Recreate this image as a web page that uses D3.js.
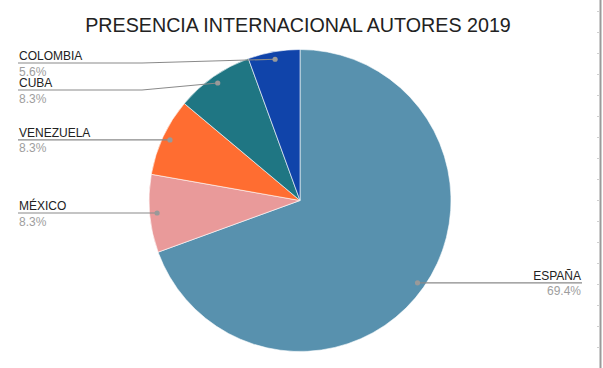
<!DOCTYPE html>
<html>
<head>
<meta charset="utf-8">
<script src="https://cdn.jsdelivr.net/npm/d3@7"></script>
<style>
  html, body { margin: 0; padding: 0; background: #fff; }
  svg { display: block; font-family: Arial, "Liberation Sans", sans-serif; }
</style>
</head>
<body>
<svg id="chart" width="603" height="368"></svg>
<script>
const title = "PRESENCIA INTERNACIONAL AUTORES 2019";
const categories = ["ESPAÑA", "MÉXICO", "VENEZUELA", "CUBA", "COLOMBIA"];
const values = [25, 3, 3, 3, 2];
const colors = ["#5891ae", "#e99a9a", "#ff6d31", "#1f7683", "#1044aa"];

const W = 603, H = 368;
const cx = 300, cy = 200.5, R = 151;

const svg = d3.select("#chart");

// right-side spreadsheet border with small ticks
const border = svg.append("g");
border.append("line").attr("x1", 600.5).attr("x2", 600.5).attr("y1", 0).attr("y2", H)
  .attr("stroke", "#9a9a9a").attr("stroke-width", 2);
d3.range(11, H, 21).forEach(y => {
  border.append("line").attr("x1", 597).attr("x2", 600).attr("y1", y + 0.5).attr("y2", y + 0.5)
    .attr("stroke", "#d0d0d0").attr("stroke-width", 1);
});

svg.append("text")
  .attr("x", 298).attr("y", 32)
  .attr("text-anchor", "middle")
  .attr("font-size", "19.7px")
  .attr("fill", "#222")
  .text(title);

const data = categories.map((c, i) => ({ name: c, value: values[i], color: colors[i] }));
const total = d3.sum(values);

const pie = d3.pie().value(d => d.value).sort(null);
const arcs = pie(data);
const arc = d3.arc().innerRadius(0).outerRadius(R);

const g = svg.append("g").attr("transform", `translate(${cx},${cy})`);
g.selectAll("path").data(arcs).enter().append("path")
  .attr("d", arc)
  .attr("fill", d => d.data.color)
  .attr("stroke", "#fff").attr("stroke-width", 0.6);

// label layout
const dotR = R * 0.95;
const fmt = v => (v / total * 100).toFixed(1) + "%";
const items = arcs.map(a => {
  const m = (a.startAngle + a.endAngle) / 2;
  return {
    a, name: a.data.name, pct: fmt(a.data.value),
    dx: cx + dotR * Math.sin(m), dy: cy - dotR * Math.cos(m),
    side: Math.sin(m) < 0 ? "left" : "right"
  };
});
["left", "right"].forEach(side => {
  const list = items.filter(d => d.side === side).sort((p, q) => p.dy - q.dy);
  let prev = -Infinity;
  list.forEach(d => {
    let y = Math.max(d.dy, 63, prev + 27);
    d.ly = y; prev = y;
  });
});

const lab = svg.append("g");
items.forEach(d => {
  const left = d.side === "left";
  const endX = left ? 18 : 582;
  const elbowX = left ? cx - R - 7 : cx + R + 7;
  const pts = Math.abs(d.ly - d.dy) > 0.5
    ? [[d.dx, d.dy], [elbowX, d.ly], [endX, d.ly]]
    : [[d.dx, d.dy], [endX, d.ly]];
  lab.append("path")
    .attr("d", d3.line()(pts))
    .attr("fill", "none").attr("stroke", "#8a8a8a").attr("stroke-width", 1.2);
  lab.append("circle").attr("cx", d.dx).attr("cy", d.dy).attr("r", 2.6).attr("fill", "#999");
  lab.append("text")
    .attr("x", left ? 19 : 581).attr("y", d.ly - 3)
    .attr("text-anchor", left ? "start" : "end")
    .attr("font-size", "12px").attr("fill", "#222")
    .text(d.name);
  lab.append("text")
    .attr("x", left ? 19 : 581).attr("y", d.ly + 12.5)
    .attr("text-anchor", left ? "start" : "end")
    .attr("font-size", "12px").attr("fill", "#9e9e9e")
    .text(d.pct);
});
</script>
</body>
</html>
